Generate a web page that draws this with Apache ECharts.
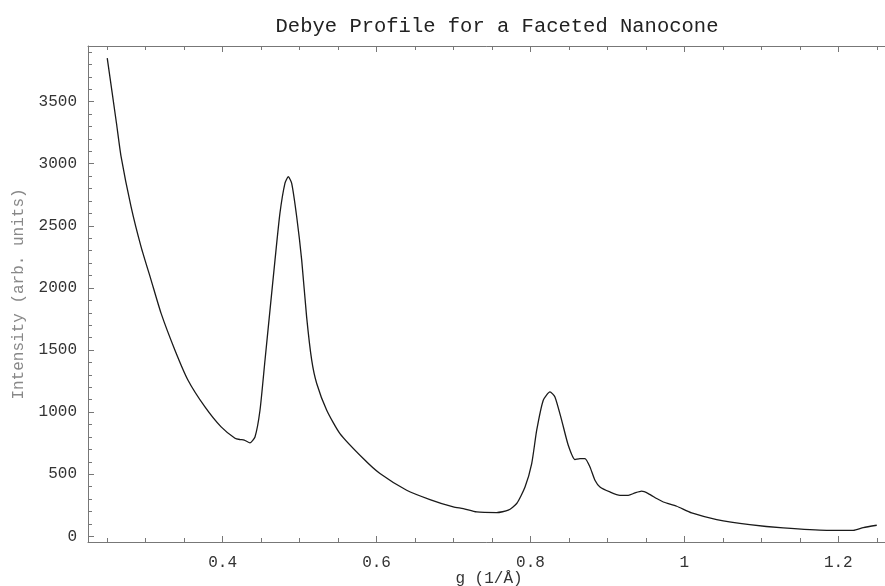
<!DOCTYPE html>
<html>
<head>
<meta charset="utf-8">
<script src="https://cdn.jsdelivr.net/npm/echarts@6/dist/echarts.min.js"></script>
<style>
html,body{margin:0;padding:0;background:#fff;}
#chart{width:885px;height:586px;}
</style>
</head>
<body>
<div id="chart"></div>
<script>
// q values (1/Å)
const qValues = [0.250,0.262,0.268,0.281,0.294,0.307,0.320,0.338,0.355,0.377,0.398,0.416,0.4225,0.428,0.4355,0.442,0.4485,0.455,0.4615,0.468,0.4744,0.4809,0.4853,0.4897,0.4962,0.5027,0.5091,0.5157,0.5222,0.5352,0.5524,0.5827,0.6044,0.6391,0.6694,0.6997,0.7127,0.7301,0.7561,0.7711,0.7821,0.7929,0.8016,0.8081,0.8166,0.8253,0.8318,0.8405,0.8491,0.8578,0.8643,0.8708,0.8773,0.8838,0.8903,0.9033,0.9163,0.9271,0.9358,0.9445,0.9531,0.964,0.9726,0.99,1.0095,1.042,1.0849,1.1285,1.1849,1.2195,1.2325,1.25];
// intensity (arb. units)
const intensity = [3850,3326,3057,2653,2331,2063,1795,1499,1257,1042,881,790,779,775,752,800,1015,1418,1821,2224,2600,2842,2895,2842,2573,2224,1767,1418,1230,1015,827,626,505,371,296,236,223,196,191,210,264,397,586,854,1096,1163,1122,935,733,618,626,626,558,451,397,357,330,330,349,363,344,304,276,242,188,135,94,67,48,48,70,89];
const xMajorTicks = [0.4,0.6,0.8,1,1.2];
const xMinorTicks = [0.25,0.3,0.35,0.45,0.5,0.55,0.65,0.7,0.75,0.85,0.9,0.95,1.05,1.1,1.15,1.25];
const yMajorTicks = [0,500,1000,1500,2000,2500,3000,3500];
const yMinorTicks = [100,200,300,400,600,700,800,900,1100,1200,1300,1400,1600,1700,1800,1900,2100,2200,2300,2400,2600,2700,2800,2900,3100,3200,3300,3400,3600,3700,3800,3900];
const titleText = 'Debye Profile for a Faceted Nanocone';
const xName = 'g (1/Å)';
const yName = 'Intensity (arb. units)';

const X_MIN = 0.225, X_MAX = 1.2672, Y_MIN = -46, Y_MAX = 3948;
const FONT = '"Liberation Mono", "DejaVu Sans Mono", monospace';
const AX = '#777';

function xAx(pos, ticks, len, showLine, labels) {
  return {
    type: 'value', position: pos, min: X_MIN, max: X_MAX,
    axisLine: {show: showLine, onZero: false, lineStyle: {color: AX, width: 1}},
    axisTick: {show: true, inside: true, length: len, customValues: ticks, lineStyle: {color: AX}},
    axisLabel: labels ? {show: true, customValues: ticks, margin: 13, color: '#333', fontFamily: FONT, fontSize: 16,
      formatter: v => String(Math.round(v*10)/10)} : {show: false},
    splitLine: {show: false},
    name: labels ? xName : '', nameLocation: 'middle', nameGap: 29, nameMoveOverlap: false,
    nameTextStyle: {color: '#333', fontFamily: FONT, fontSize: 16}
  };
}
function yAx(ticks, len, showLine, labels) {
  return {
    type: 'value', position: 'left', min: Y_MIN, max: Y_MAX,
    axisLine: {show: showLine, onZero: false, lineStyle: {color: AX, width: 1}},
    axisTick: {show: true, inside: true, length: len, customValues: ticks, lineStyle: {color: AX}},
    axisLabel: labels ? {show: true, customValues: ticks, margin: 11, color: '#333', fontFamily: FONT, fontSize: 16,
      formatter: v => String(Math.round(v))} : {show: false},
    splitLine: {show: false},
    name: labels ? yName : '', nameLocation: 'middle', nameGap: 61, nameMoveOverlap: false,
    nameTextStyle: {color: '#888', fontFamily: FONT, fontSize: 16}
  };
}

const chart = echarts.init(document.getElementById('chart'), null, {renderer: 'canvas'});
chart.setOption({
  animation: false,
  backgroundColor: '#fff',
  title: {text: titleText, left: 492, top: 11, textAlign: 'center',
    textStyle: {fontFamily: FONT, fontSize: 20.5, fontWeight: 'normal', color: '#222'}},
  grid: {left: 88, top: 46, bottom: 44, width: 802, containLabel: false, outerBoundsMode: 'none'},
  xAxis: [
    xAx('bottom', xMajorTicks, 6, true, true),
    xAx('bottom', xMinorTicks, 4, false, false),
    xAx('top', xMajorTicks, 6, true, false),
    xAx('top', xMinorTicks, 4, false, false)
  ],
  yAxis: [
    yAx(yMajorTicks, 6, true, true),
    yAx(yMinorTicks, 4, false, false)
  ],
  series: [{
    type: 'line', xAxisIndex: 0, yAxisIndex: 0,
    data: qValues.map((q, i) => [q, intensity[i]]),
    showSymbol: false, smooth: 0.2,
    lineStyle: {color: '#1a1a1a', width: 1.3}
  }]
});
</script>
</body>
</html>
